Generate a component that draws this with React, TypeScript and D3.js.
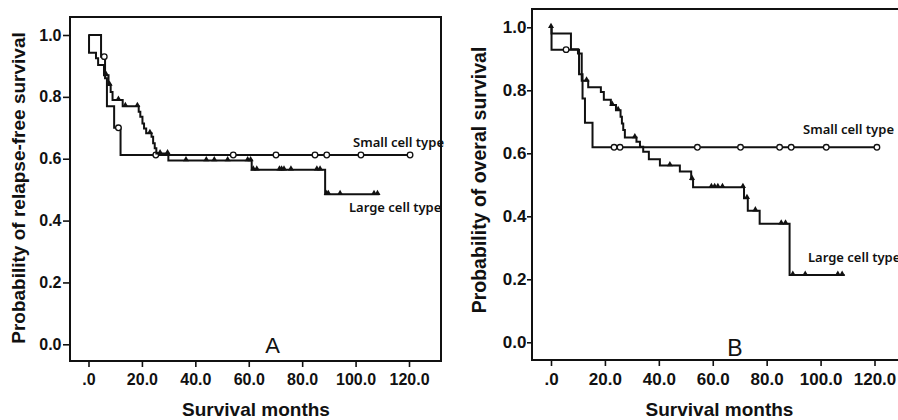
import React, { useEffect, useRef } from "react";
import * as d3 from "d3";

// tick values shared by both panels
const X_TICKS = [0, 20, 40, 60, 80, 100, 120];
const Y_TICKS = [0, 0.2, 0.4, 0.6, 0.8, 1.0];

// Panel A - relapse-free survival
const aSmallTimes = [4.7, 6.2, 6.9, 9.6, 12.0];
const aSmallSurv = [0.93, 0.86, 0.77, 0.7, 0.612];
const aSmallCensor = [5.9, 11.2, 25.2, 54.2, 70.2, 84.8, 89.2, 102.0, 120.4];
const aLargeTimes = [0.2, 2.8, 3.6, 5.8, 7.5, 8.3, 9.0, 12.8, 18.8, 19.4, 20.2, 20.8, 21.6, 23.6, 24.2, 24.8, 25.4, 29.9, 61.1, 88.6];
const aLargeSurv = [0.943, 0.925, 0.903, 0.87, 0.838, 0.816, 0.79, 0.77, 0.752, 0.736, 0.714, 0.698, 0.682, 0.671, 0.65, 0.634, 0.617, 0.594, 0.564, 0.485];
const aLargeCensor = [6.6, 7.9, 11.2, 13.8, 18.3, 23.0, 26.8, 29.6, 36.5, 44.1, 47.1, 52.1, 59.6, 60.7, 61.7, 63.0, 71.5, 72.3, 73.2, 75.8, 85.5, 86.7, 89.2, 89.8, 94.2, 106.9, 108.2];
const aLargeEnd = 108.9;

// Panel B - overall survival
const bSmallTimes = [0.2, 10.4, 11.7, 12.6, 15.4];
const bSmallSurv = [0.929, 0.851, 0.774, 0.697, 0.619];
const bSmallCensor = [5.6, 23.4, 25.6, 54.3, 70.3, 84.8, 89.1, 102.1, 120.9];
const bLargeTimes = [0.2, 7.4, 10.0, 11.4, 13.8, 18.5, 19.6, 22.2, 24.1, 25.8, 26.3, 26.8, 27.4, 31.7, 33.0, 34.2, 36.3, 40.4, 47.8, 52.0, 52.7, 71.6, 73.0, 77.4, 88.5];
const bLargeSurv = [0.98, 0.93, 0.917, 0.83, 0.81, 0.795, 0.77, 0.753, 0.737, 0.716, 0.695, 0.674, 0.65, 0.637, 0.621, 0.605, 0.581, 0.561, 0.542, 0.518, 0.492, 0.457, 0.418, 0.376, 0.214];
const bLargeCensor = [0, 13.2, 22.7, 24.9, 31.1, 44.1, 52.3, 59.5, 60.7, 61.9, 63.6, 71.2, 72.7, 75.8, 85.4, 87.0, 89.7, 94.3, 106.4, 108.0];
const bLargeEnd = 108.9;

const AXIS_FONT = "'Liberation Sans', Arial, sans-serif";
const LABEL_FONT = "'Noto Sans', 'Open Sans', sans-serif";

// survival at time t from the step data
function survAt(times: number[], surv: number[], t: number) {
  let s = 1;
  for (let i = 0; i < times.length; i++) {
    if (times[i] <= t) s = surv[i];
  }
  return s;
}

function drawPanel(svg: any, p: any) {
  const x = d3.scaleLinear().domain([0, 120]).range([p.x0, p.x120]);
  const y = d3.scaleLinear().domain([0, 1]).range([p.y0, p.y1]);
  const g = svg.append("g");

  // frame
  g.append("rect")
    .attr("x", p.left).attr("y", p.top)
    .attr("width", p.right - p.left).attr("height", p.bottom - p.top)
    .attr("fill", "none").attr("stroke", "#111").attr("stroke-width", 2);

  const yAxis = g.append("g")
    .attr("transform", "translate(" + p.left + ",0)")
    .call(d3.axisLeft(y).tickValues(Y_TICKS).tickSize(p.yTick).tickSizeOuter(0)
      .tickPadding(p.yPad).tickFormat((d: any) => d.toFixed(1)));
  yAxis.select(".domain").remove();
  yAxis.selectAll("line").attr("stroke", "#111").attr("stroke-width", 1.6);
  yAxis.selectAll("text").attr("font-family", AXIS_FONT).attr("font-weight", "bold")
    .attr("font-size", p.tickFont).attr("fill", "#111");

  const xAxis = g.append("g")
    .attr("transform", "translate(0," + p.bottom + ")")
    .call(d3.axisBottom(x).tickValues(X_TICKS).tickSize(6).tickSizeOuter(0)
      .tickPadding(p.xPad).tickFormat((d: any) => (d === 0 ? ".0" : d.toFixed(1))));
  xAxis.select(".domain").remove();
  xAxis.selectAll("line").attr("stroke", "#111").attr("stroke-width", 1.6);
  xAxis.selectAll("text").attr("font-family", AXIS_FONT).attr("font-weight", "bold")
    .attr("font-size", p.tickFont).attr("fill", "#111");

  // axis titles
  g.append("text")
    .attr("x", p.xTitleX).attr("y", 416)
    .attr("text-anchor", "middle").attr("font-family", AXIS_FONT)
    .attr("font-weight", "bold").attr("font-size", 19).attr("fill", "#111")
    .text("Survival months");
  g.append("text")
    .attr("transform", "translate(" + p.yTitleX + "," + p.yTitleY + ") rotate(-90)")
    .attr("text-anchor", "middle").attr("font-family", AXIS_FONT)
    .attr("font-weight", "bold").attr("font-size", p.yTitleFont).attr("fill", "#111")
    .text(p.yTitle);

  // panel letter
  g.append("text")
    .attr("x", p.letterX).attr("y", p.letterY)
    .attr("text-anchor", "middle").attr("font-family", AXIS_FONT)
    .attr("font-size", p.letterFont).attr("fill", "#111")
    .text(p.letter);

  const line = d3.line<any>()
    .x((d) => x(d[0]))
    .y((d) => y(d[1]))
    .curve(d3.curveStepAfter);

  p.series.forEach((s: any) => {
    const pts: any[] = [[0, 1]];
    s.times.forEach((t: number, i: number) => pts.push([t, s.surv[i]]));
    pts.push([s.end, s.surv[s.surv.length - 1]]);
    g.append("path")
      .attr("d", line(pts))
      .attr("fill", "none").attr("stroke", "#111").attr("stroke-width", 2);

    const marks = g.append("g");
    s.censor.forEach((c: number) => {
      const cy = y(survAt(s.times, s.surv, c));
      if (s.mark === "circle") {
        marks.append("circle")
          .attr("cx", x(c)).attr("cy", cy).attr("r", 2.8)
          .attr("fill", "#fff").attr("stroke", "#111").attr("stroke-width", 1.3);
      } else {
        marks.append("path")
          .attr("d", d3.symbol().type(d3.symbolTriangle).size(16)())
          .attr("transform", "translate(" + x(c) + "," + (cy - 1) + ")")
          .attr("fill", "#111");
      }
    });

    g.append("text")
      .attr("x", s.labelX).attr("y", s.labelY)
      .attr("font-family", LABEL_FONT).attr("font-weight", 600)
      .attr("font-size", 13).attr("fill", "#111")
      .text(s.label);
  });
}

export default function App() {
  const ref = useRef<SVGSVGElement>(null);

  useEffect(() => {
    const svg = d3.select(ref.current);
    svg.selectAll("*").remove();

    drawPanel(svg, {
      left: 70, top: 17, right: 441, bottom: 361,
      x0: 88.5, x120: 409, y0: 344.3, y1: 35,
      yTick: 7, yPad: 1.5, xPad: 6.6, tickFont: 16,
      xTitleX: 256, yTitleX: 25, yTitleY: 188, yTitleFont: 19,
      yTitle: "Probability of relapse-free survival",
      letter: "A", letterX: 272.5, letterY: 352.5, letterFont: 22,
      series: [
        { times: aSmallTimes, surv: aSmallSurv, censor: aSmallCensor, end: aSmallCensor[aSmallCensor.length - 1],
          mark: "circle", label: "Small cell type", labelX: 353, labelY: 147 },
        { times: aLargeTimes, surv: aLargeSurv, censor: aLargeCensor, end: aLargeEnd,
          mark: "triangle", label: "Large cell type", labelX: 349, labelY: 212 },
      ],
    });

    drawPanel(svg, {
      left: 532, top: 9, right: 940, bottom: 360,
      x0: 551, x120: 874.5, y0: 342.3, y1: 27.3,
      yTick: 5, yPad: 0.5, xPad: 7, tickFont: 17,
      xTitleX: 719.5, yTitleX: 486, yTitleY: 180, yTitleFont: 19.5,
      yTitle: "Probability of overal survival",
      letter: "B", letterX: 735, letterY: 355.5, letterFont: 23,
      series: [
        { times: bSmallTimes, surv: bSmallSurv, censor: bSmallCensor, end: bSmallCensor[bSmallCensor.length - 1],
          mark: "circle", label: "Small cell type", labelX: 803, labelY: 134 },
        { times: bLargeTimes, surv: bLargeSurv, censor: bLargeCensor, end: bLargeEnd,
          mark: "triangle", label: "Large cell type", labelX: 808, labelY: 262 },
      ],
    });
  }, []);

  return (
    <svg
      ref={ref}
      width={898}
      height={420}
      style={{ position: "absolute", left: 0, top: 0, display: "block", background: "#fff" }}
    />
  );
}
